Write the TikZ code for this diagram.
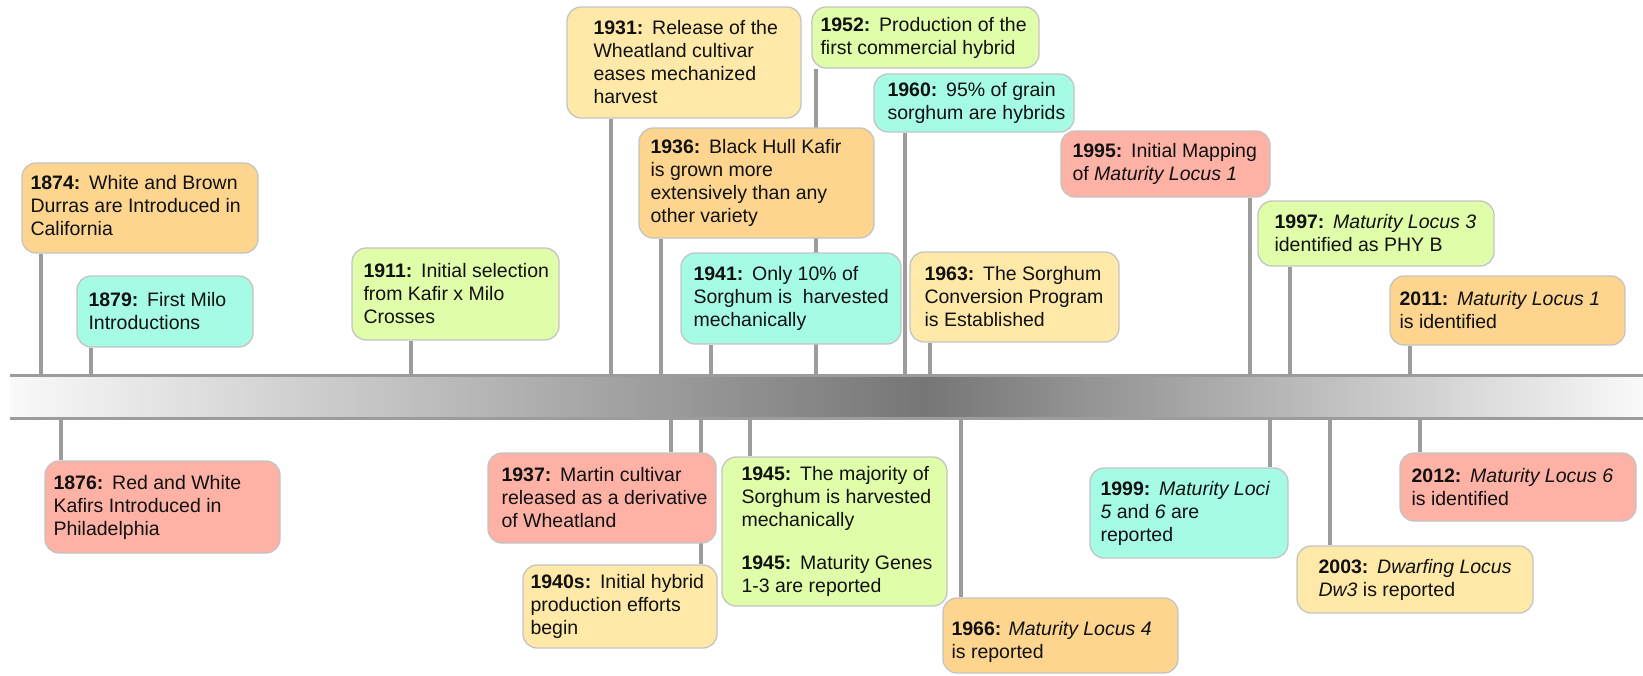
\documentclass[tikz,border=0pt]{standalone}
\usepackage{fontspec}
\setmainfont{Liberation Sans}
\usetikzlibrary{backgrounds}
\definecolor{cOrange}{HTML}{FDD58F}
\definecolor{cCyan}{HTML}{A6FBE5}
\definecolor{cGreen}{HTML}{E0FDAA}
\definecolor{cYellow}{HTML}{FFE9A8}
\definecolor{cSalmon}{HTML}{FDB2A5}
\definecolor{boxborder}{HTML}{C4C4C4}
\definecolor{stemgray}{HTML}{9C9C9C}
\definecolor{bandlight}{HTML}{F9F9F9}
\definecolor{banddark}{HTML}{767676}
\definecolor{textdark}{HTML}{111111}
\tikzset{
  evbox/.style={draw=boxborder, line width=1.3pt, rounded corners=14pt, inner sep=0pt},
  evtext/.style={anchor=west, align=left, inner sep=0pt, text=textdark,
    font=\fontsize{19.5}{23}\selectfont},
  stemline/.style={draw=stemgray, line width=4pt},
  bandline/.style={draw=stemgray, line width=3pt},
}
\newcommand{\yr}[1]{\textbf{#1:}\hspace{0.45em}}
% name, x1, y1, x2, y2, colour, text shift, text
\newcommand{\evt}[8]{%
  \node[evbox, fill=#6, minimum width=#4-#2, minimum height=#5-#3] (#1) at ({(#2+#4)/2},{(#3+#5)/2}) {};
  \node[evtext] (#1t) at ([#7]#1.west) {#8};
}
\begin{document}
\begin{tikzpicture}[x=1pt,y=-1pt]
\useasboundingbox (0,0) rectangle (1643,675);

% events above the band
\evt{e1874}{22}{163}{258}{253}{cOrange}{xshift=9pt,yshift=2pt}{\yr{1874}White and Brown\\Durras are Introduced in\\California}
\evt{e1879}{77}{276}{253}{347}{cCyan}{xshift=12pt}{\yr{1879}First Milo\\Introductions}
\evt{e1911}{352}{248}{559}{340}{cGreen}{xshift=12pt}{\yr{1911}Initial selection\\from Kafir x Milo\\Crosses}
\evt{e1931}{567}{7}{801}{118}{cYellow}{xshift=27pt}{\yr{1931}Release of the\\Wheatland cultivar\\eases mechanized\\harvest}
\evt{e1936}{639}{128}{874}{238}{cOrange}{xshift=12pt}{\yr{1936}Black Hull Kafir\\is grown more\\extensively than any\\other variety}
\evt{e1941}{681}{253}{901}{344}{cCyan}{xshift=13pt}{\yr{1941}Only 10\% of\\Sorghum is\ \ harvested\\mechanically}
\evt{e1952}{812}{7}{1039}{68}{cGreen}{xshift=9pt}{\yr{1952}Production of the\\first commercial hybrid}
\evt{e1960}{874}{74}{1074}{132}{cCyan}{xshift=14pt}{\yr{1960}95\% of grain\\sorghum are hybrids}
\evt{e1963}{910}{252}{1119}{342}{cYellow}{xshift=15pt}{\yr{1963}The Sorghum\\Conversion Program\\is Established}
\evt{e1995}{1061}{131}{1270}{197}{cSalmon}{xshift=12pt}{\yr{1995}Initial Mapping\\of \textit{Maturity Locus 1}}
\evt{e1997}{1258}{201}{1494}{266}{cGreen}{xshift=17pt}{\yr{1997}\textit{Maturity Locus 3}\\identified as PHY B}
\evt{e2011}{1390}{276}{1625}{345}{cOrange}{xshift=10pt}{\yr{2011}\textit{Maturity Locus 1}\\is identified}

% events below the band
\evt{e1876}{45}{461}{280}{553}{cSalmon}{xshift=9pt}{\yr{1876}Red and White\\Kafirs Introduced in\\Philadelphia}
\evt{e1937}{488}{453}{716}{543}{cSalmon}{xshift=14pt}{\yr{1937}Martin cultivar\\released as a derivative\\of Wheatland}
\evt{e1940s}{523}{565}{717}{648}{cYellow}{xshift=8pt}{\yr{1940s}Initial hybrid\\production efforts\\begin}
\evt{e1945}{722}{457}{947}{606}{cGreen}{xshift=20pt}{\yr{1945}The majority of\\Sorghum is harvested\\mechanically\\[20pt]\yr{1945}Maturity Genes\\1-3 are reported}
\evt{e1966}{943}{598}{1178}{673}{cOrange}{xshift=9pt,yshift=-6pt}{\textbf{1966:} \textit{Maturity Locus 4}\\is reported}
\evt{e1999}{1090}{468}{1288}{558}{cCyan}{xshift=11pt}{\yr{1999}\textit{Maturity Loci}\\\textit{5} and \textit{6} are\\reported}
\evt{e2003}{1297}{546}{1533}{613}{cYellow}{xshift=22pt}{\yr{2003}\textit{Dwarfing Locus}\\\textit{Dw3} is reported}
\evt{e2012}{1400}{453}{1636}{521}{cSalmon}{xshift=12pt}{\yr{2012}\textit{Maturity Locus 6}\\is identified}

\begin{scope}[on background layer]
  % the band
  \shade[left color=bandlight, right color=banddark] (10,376.5) rectangle (925,416.5);
  \shade[left color=banddark, right color=bandlight] (925,376.5) rectangle (1643,416.5);
  \draw[bandline] (10,375) -- (1643,375);
  \draw[bandline] (10,418) -- (1643,418);
  % stems above
  \foreach \n/\x in {e1874/41, e1879/91, e1911/411, e1931/611, e1936/661, e1941/711,
                     e1952/816, e1960/905, e1963/930, e1995/1250, e1997/1290, e2011/1410}{
    \coordinate (s\n) at (\x,375);
    \draw[stemline] (s\n) -- (s\n |- \n.south);
  }
  % stems below
  \foreach \n/\x in {e1876/61, e1937/671, e1940s/701, e1945/750, e1966/961,
                     e1999/1270, e2003/1330, e2012/1420}{
    \coordinate (s\n) at (\x,418);
    \draw[stemline] (s\n) -- (s\n |- \n.north);
  }
\end{scope}
\end{tikzpicture}
\end{document}
